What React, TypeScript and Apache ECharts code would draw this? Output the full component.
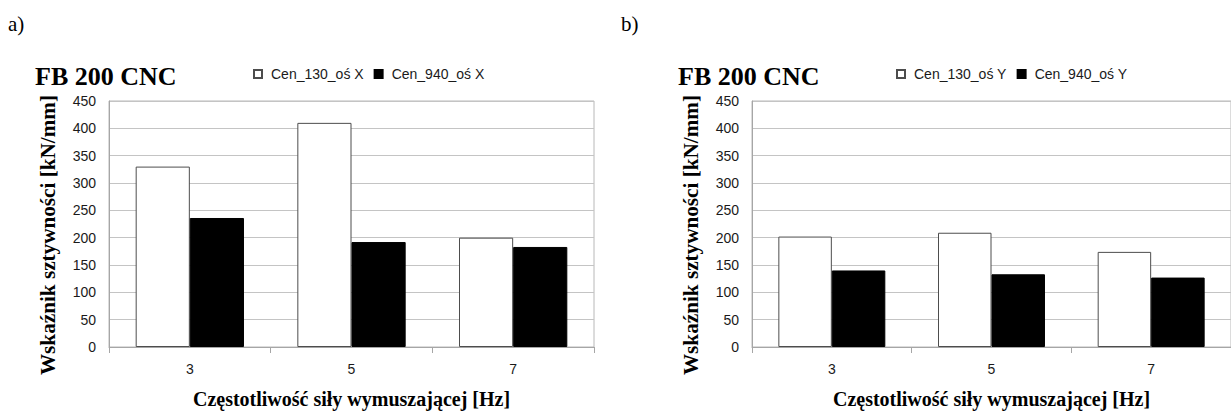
import React, { useEffect, useRef } from "react";
import * as echarts from "echarts";

const categories = ["3", "5", "7"];
const seriesNamesA = ["Cen_130_oś X", "Cen_940_oś X"];
const seriesNamesB = ["Cen_130_oś Y", "Cen_940_oś Y"];
const cen130X = [330, 410, 200];
const cen940X = [236, 192, 183];
const cen130Y = [202, 209, 174];
const cen940Y = [140, 133, 127];
const yMin = 0;
const yMax = 450;
const yInterval = 50;
const chartTitle = "FB 200 CNC";
const panelLabels = ["a)", "b)"];
const yAxisName = "Wskaźnik sztywności [kN/mm]";
const xAxisName = "Częstotliwość siły wymuszającej [Hz]";

const SANS = "Liberation Sans, Arial, sans-serif";
const SERIF = "Liberation Serif, Times New Roman, serif";

export default function App() {
  const ref = useRef<HTMLDivElement>(null);
  useEffect(() => {
    if (!ref.current) return;
    const chart = echarts.init(ref.current, undefined, { renderer: "svg" });
    const OFFSET = 643;
    const grids = [
      { left: 109, top: 101, width: 485, height: 248 },
      { left: 109 + OFFSET, top: 101, width: 485, height: 248 },
    ];
    const xAxes = grids.map((_, i) => ({
      type: "category",
      gridIndex: i,
      data: categories,
      axisLine: { show: true, lineStyle: { color: "#a6a6a6", width: 1 } },
      axisTick: { show: true, length: 6, lineStyle: { color: "#a6a6a6" } },
      axisLabel: { fontFamily: SANS, fontSize: 14, color: "#1a1a1a", margin: 15 },
      name: xAxisName,
      nameLocation: "middle",
      nameGap: 42,
      nameTextStyle: { fontFamily: SERIF, fontWeight: "bold", fontSize: 20, color: "#000" },
    }));
    const yAxes = grids.map((_, i) => ({
      type: "value",
      gridIndex: i,
      min: yMin,
      max: yMax,
      interval: yInterval,
      axisLine: { show: true, lineStyle: { color: "#a6a6a6" } },
      axisTick: { show: false },
      splitLine: { show: true, lineStyle: { color: "#c4c4c4", width: 1 } },
      axisLabel: { fontFamily: SANS, fontSize: 14, color: "#1a1a1a", margin: 13 },
    }));
    const whiteStyle = { color: "#ffffff", borderColor: "#4d4d4d", borderWidth: 1 };
    const blackStyle = { color: "#000000", borderColor: "#000000", borderWidth: 1 };
    const mk = (name: string, data: number[], idx: number, style: any) => ({
      type: "bar",
      name,
      data,
      xAxisIndex: idx,
      yAxisIndex: idx,
      barGap: "0%",
      barCategoryGap: "33%",
      itemStyle: style,
    });
    const legendBase = {
      top: 67,
      padding: 0,
      icon: "rect",
      itemWidth: 8,
      itemHeight: 8,
      itemGap: 10,
      textStyle: { fontFamily: SANS, fontSize: 14, color: "#1a1a1a", padding: [0, 0, 0, 4] },
    };
    const yTitle = (cx: number) => ({
      type: "text",
      x: cx,
      y: 235,
      rotation: Math.PI / 2,
      scaleX: 1.06,
      style: {
        text: yAxisName,
        fontFamily: SERIF,
        fontWeight: "bold",
        fontSize: 20,
        fill: "#000",
        align: "center",
        verticalAlign: "middle",
        textAlign: "center",
        textVerticalAlign: "middle",
      },
    });
    chart.setOption({
      animation: false,
      title: [
        { text: panelLabels[0], left: 3, top: 8, textStyle: { fontFamily: SERIF, fontWeight: "normal", fontSize: 21, color: "#000" } },
        { text: panelLabels[1], left: 616, top: 8, textStyle: { fontFamily: SERIF, fontWeight: "normal", fontSize: 21, color: "#000" } },
        { text: chartTitle, left: 30, top: 58, textStyle: { fontFamily: SERIF, fontWeight: "bold", fontSize: 26, color: "#000" } },
        { text: chartTitle, left: 30 + OFFSET, top: 58, textStyle: { fontFamily: SERIF, fontWeight: "bold", fontSize: 26, color: "#000" } },
      ],
      legend: [
        { ...legendBase, data: seriesNamesA, left: 253 },
        { ...legendBase, data: seriesNamesB, left: 253 + OFFSET },
      ],
      graphic: [yTitle(48.5), yTitle(48.5 + OFFSET)],
      grid: grids.map((g) => ({ ...g, show: true, borderColor: "#b8b8b8", borderWidth: 1, backgroundColor: "transparent" })),
      xAxis: xAxes,
      yAxis: yAxes,
      series: [
        mk(seriesNamesA[0], cen130X, 0, whiteStyle),
        mk(seriesNamesA[1], cen940X, 0, blackStyle),
        mk(seriesNamesB[0], cen130Y, 1, whiteStyle),
        mk(seriesNamesB[1], cen940Y, 1, blackStyle),
      ],
    });
    return () => chart.dispose();
  }, []);
  return (
    <div
      ref={ref}
      style={{ position: "absolute", left: 0, top: 0, width: 1231, height: 414, background: "#fff", overflow: "hidden" }}
    />
  );
}
